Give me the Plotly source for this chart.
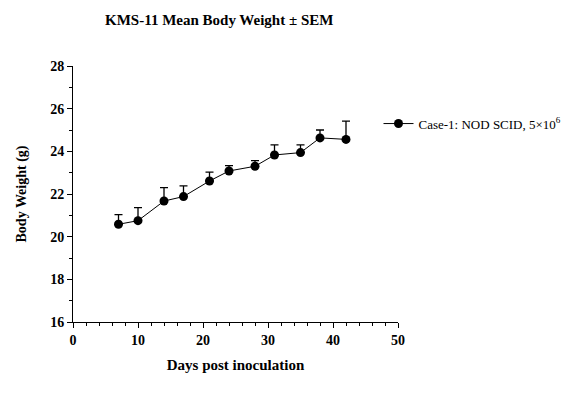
import plotly.graph_objects as go

days = [7, 10, 14, 17, 21, 24, 28, 31, 35, 38, 42]
mean_weight = [20.58, 20.75, 21.67, 21.88, 22.61, 23.08, 23.30, 23.83, 23.94, 24.63, 24.56]
sem = [0.45, 0.61, 0.63, 0.50, 0.42, 0.25, 0.26, 0.47, 0.36, 0.37, 0.86]
series_name = "Case-1: NOD SCID, 5×10<sup>6</sup>"
x_ticks = [0, 10, 20, 30, 40, 50]
y_ticks = [16, 18, 20, 22, 24, 26, 28]

FONT = "Liberation Serif"

fig = go.Figure()
fig.add_trace(go.Scatter(
    x=days, y=mean_weight, mode="lines+markers", name=series_name,
    line=dict(color="black", width=1),
    marker=dict(color="black", size=9, symbol="circle"),
    error_y=dict(type="data", array=sem, arrayminus=[0] * len(sem), symmetric=False,
                 color="black", thickness=1.3, width=4),
))

fig.update_layout(
    width=571, height=402,
    margin=dict(l=73, r=173, t=66, b=80, autoexpand=False),
    paper_bgcolor="white", plot_bgcolor="white",
    font=dict(family=FONT, color="black", size=14),
    title=dict(text="<b>KMS-11 Mean Body Weight ± SEM</b>", x=0.384, xanchor="center",
               y=0.95, yanchor="middle", font=dict(family=FONT, size=15)),
    showlegend=True,
    legend=dict(x=0.94, xanchor="left", y=0.775, yanchor="middle", itemwidth=30,
                font=dict(family=FONT, size=13), bgcolor="rgba(0,0,0,0)"),
    xaxis=dict(range=[0, 50], tickvals=x_ticks, ticktext=[f"<b>{v}</b>" for v in x_ticks],
               showgrid=False, zeroline=False,
               showline=True, linecolor="black", linewidth=1, ticks="outside", ticklen=5,
               tickcolor="black", tickfont=dict(size=14),
               minor=dict(dtick=2, ticks="outside", ticklen=3, tickcolor="black", showgrid=False),
               title=dict(text="<b>Days post inoculation</b>", font=dict(size=15), standoff=12)),
    yaxis=dict(range=[16, 28], tickvals=y_ticks, ticktext=[f"<b>{v}</b>" for v in y_ticks],
               showgrid=False, zeroline=False,
               showline=True, linecolor="black", linewidth=1, ticks="outside", ticklen=5,
               tickcolor="black", tickfont=dict(size=14),
               minor=dict(dtick=1, ticks="outside", ticklen=3, tickcolor="black", showgrid=False),
               title=dict(text="<b>Body Weight (g)</b>", font=dict(size=14), standoff=20)),
)

fig.write_html("out.html")
